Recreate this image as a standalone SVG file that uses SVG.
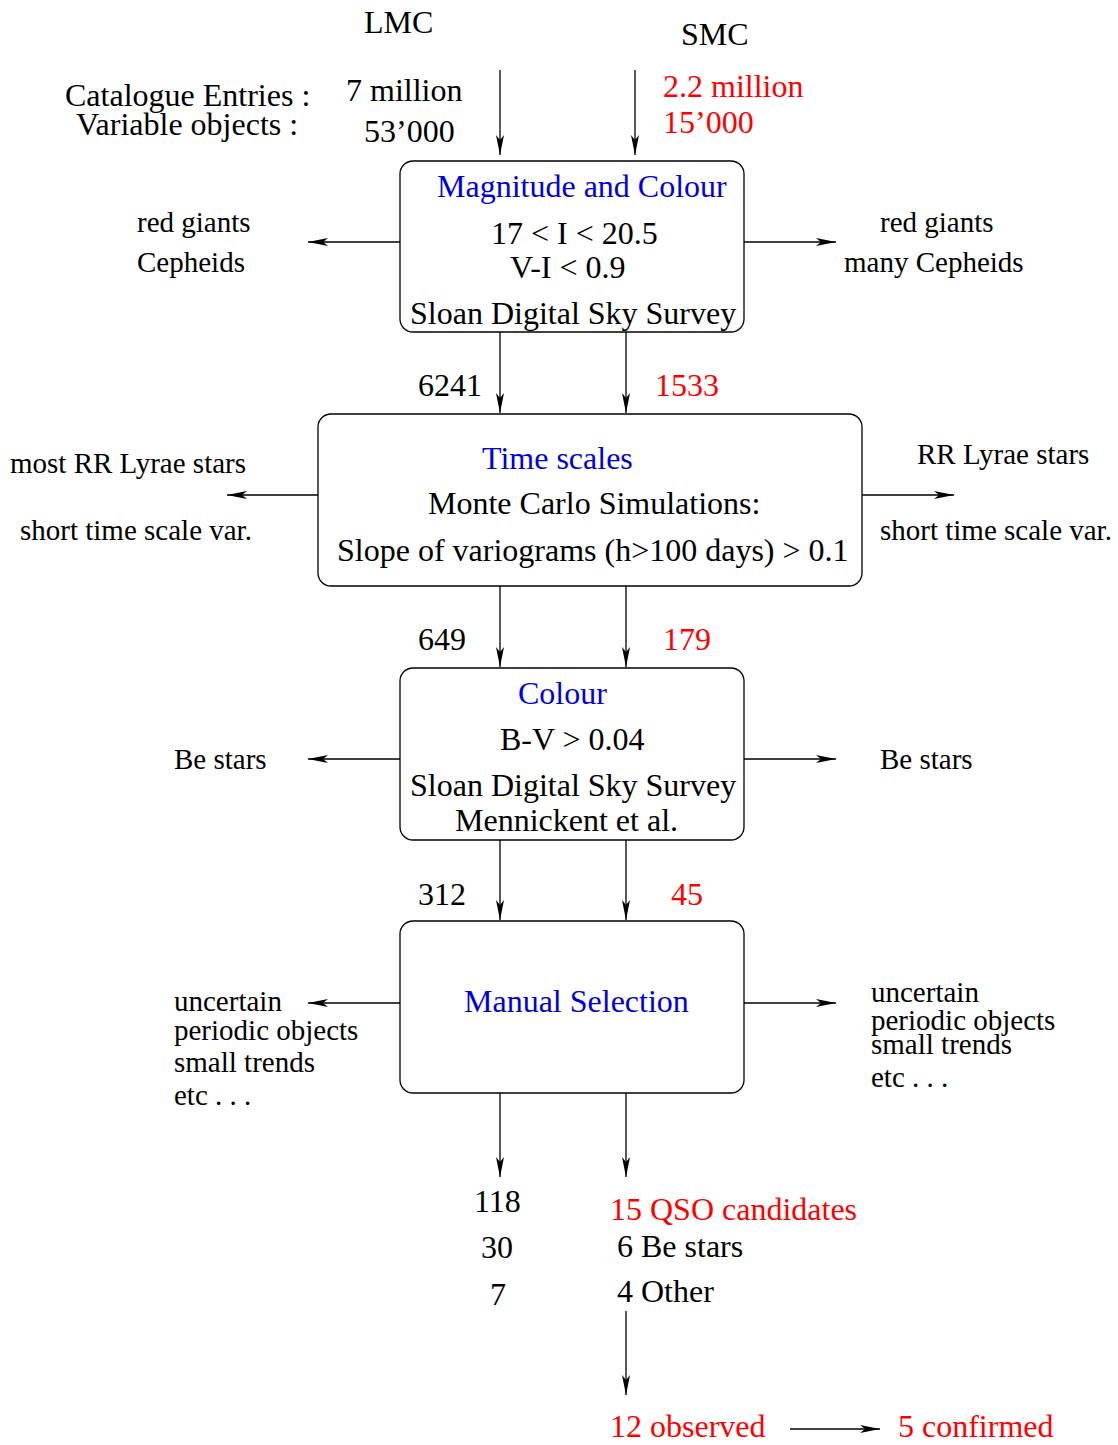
<svg xmlns="http://www.w3.org/2000/svg" width="1118" height="1445" viewBox="0 0 1118 1445">
<style>
text{font-family:"Liberation Serif","Times New Roman",serif;fill:#000}
.b{font-size:32px}
.s{font-size:29px}
.red{fill:#ff0000}
.blue{fill:#0000dd}
.box{fill:none;stroke:#000;stroke-width:1.3}
.c line{stroke:#000;stroke-width:1.3;marker-end:url(#ah)}
</style>
<defs>
<marker id="ah" markerUnits="userSpaceOnUse" markerWidth="22" markerHeight="10" refX="20" refY="5" orient="auto" overflow="visible">
<path d="M0,1 L20,5 L0,9 L5,5 Z" fill="#000"/>
</marker>
</defs>
<g id="inputs">
<text class="b" x="364" y="33">LMC</text>
<text class="b" x="681" y="45">SMC</text>
<text class="b" x="65" y="106">Catalogue Entries :</text>
<text class="b" x="76" y="135">Variable objects :</text>
<text class="b" x="346" y="101">7 million</text>
<text class="b" x="364" y="142">53’000</text>
<text class="b red" x="663" y="97">2.2 million</text>
<text class="b red" x="663" y="133">15’000</text>
</g>
<g id="node-magnitude">
<rect class="box" x="400" y="161" width="344" height="171" rx="13"/>
<text class="b blue" x="437" y="197">Magnitude and Colour</text>
<text class="b" x="491" y="244">17 &lt; I &lt; 20.5</text>
<text class="b" x="510" y="278">V-I &lt; 0.9</text>
<text class="b" x="410" y="324">Sloan Digital Sky Survey</text>
</g>
<g id="out-magnitude">
<text class="s" x="137" y="232">red giants</text>
<text class="s" x="137" y="272">Cepheids</text>
<text class="s" x="880" y="232">red giants</text>
<text class="s" x="844" y="272">many Cepheids</text>
<text class="b" x="418" y="396">6241</text>
<text class="b red" x="655" y="396">1533</text>
</g>
<g id="node-timescales">
<rect class="box" x="318" y="414" width="544" height="172" rx="13"/>
<text class="b blue" x="482" y="469">Time scales</text>
<text class="b" x="428" y="514">Monte Carlo Simulations:</text>
<text class="b" x="337" y="561">Slope of variograms (h&gt;100 days) &gt; 0.1</text>
</g>
<g id="out-timescales">
<text class="s" x="10" y="473">most RR Lyrae stars</text>
<text class="s" x="20" y="540">short time scale var.</text>
<text class="s" x="917" y="464">RR Lyrae stars</text>
<text class="s" x="880" y="540">short time scale var.</text>
<text class="b" x="418" y="650">649</text>
<text class="b red" x="663" y="650">179</text>
</g>
<g id="node-colour">
<rect class="box" x="400" y="668" width="344" height="172" rx="13"/>
<text class="b blue" x="518" y="704">Colour</text>
<text class="b" x="500" y="750">B-V &gt; 0.04</text>
<text class="b" x="410" y="796">Sloan Digital Sky Survey</text>
<text class="b" x="455" y="831">Mennickent et al.</text>
</g>
<g id="out-colour">
<text class="s" x="174" y="769">Be stars</text>
<text class="s" x="880" y="769">Be stars</text>
<text class="b" x="418" y="905">312</text>
<text class="b red" x="671" y="905">45</text>
</g>
<g id="node-manual">
<rect class="box" x="400" y="921" width="344" height="172" rx="13"/>
<text class="b blue" x="464" y="1012">Manual Selection</text>
</g>
<g id="out-manual">
<text class="s" x="174" y="1011">uncertain</text>
<text class="s" x="174" y="1040">periodic objects</text>
<text class="s" x="174" y="1072">small trends</text>
<text class="s" x="174" y="1105">etc . . .</text>
<text class="s" x="871" y="1002">uncertain</text>
<text class="s" x="871" y="1030">periodic objects</text>
<text class="s" x="871" y="1054">small trends</text>
<text class="s" x="871" y="1087">etc . . .</text>
</g>
<g id="results">
<text class="b" x="474" y="1212">118</text>
<text class="b" x="481" y="1258">30</text>
<text class="b" x="490" y="1305">7</text>
<text class="b red" x="610" y="1220">15 QSO candidates</text>
<text class="b" x="617" y="1257">6 Be stars</text>
<text class="b" x="617" y="1302">4 Other</text>
<text class="b red" x="610" y="1437">12 observed</text>
<text class="b red" x="898" y="1437">5 confirmed</text>
</g>
<g id="connectors" class="c">
<line x1="500" y1="70" x2="500" y2="155"/>
<line x1="635" y1="70" x2="635" y2="155"/>
<line x1="400" y1="242" x2="308" y2="242"/>
<line x1="744" y1="242" x2="836" y2="242"/>
<line x1="500" y1="332" x2="500" y2="413"/>
<line x1="626" y1="332" x2="626" y2="413"/>
<line x1="318" y1="495" x2="227" y2="495"/>
<line x1="862" y1="495" x2="954" y2="495"/>
<line x1="500" y1="586" x2="500" y2="667"/>
<line x1="626" y1="586" x2="626" y2="667"/>
<line x1="400" y1="759" x2="308" y2="759"/>
<line x1="744" y1="759" x2="836" y2="759"/>
<line x1="500" y1="840" x2="500" y2="920"/>
<line x1="626" y1="840" x2="626" y2="920"/>
<line x1="400" y1="1003" x2="308" y2="1003"/>
<line x1="744" y1="1003" x2="836" y2="1003"/>
<line x1="500" y1="1093" x2="500" y2="1177"/>
<line x1="626" y1="1093" x2="626" y2="1177"/>
<line x1="626" y1="1311" x2="626" y2="1395"/>
<line x1="790" y1="1429" x2="880" y2="1429"/>
</g>
</svg>
